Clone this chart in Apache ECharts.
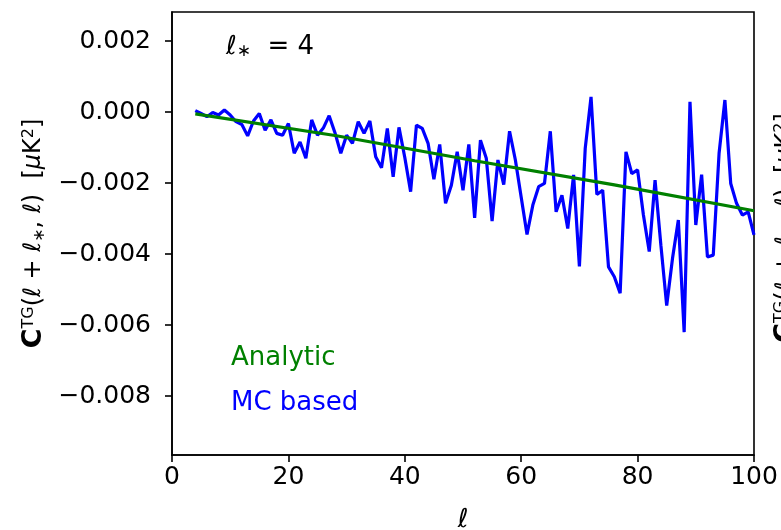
<!DOCTYPE html>
<html>
<head>
<meta charset="utf-8">
<script src="https://cdn.jsdelivr.net/npm/echarts@6/dist/echarts.min.js"></script>
<style>html,body{margin:0;padding:0;background:#fff;}#c{width:781px;height:530px;}</style>
</head>
<body>
<div id="c"></div>
<script>
// ---- data ----
const ells = [4,5,6,7,8,9,10,11,12,13,14,15,16,17,18,19,20,21,22,23,24,25,26,27,28,29,30,31,32,33,34,35,36,37,38,39,40,41,42,43,44,45,46,47,48,49,50,51,52,53,54,55,56,57,58,59,60,61,62,63,64,65,66,67,68,69,70,71,72,73,74,75,76,77,78,79,80,81,82,83,84,85,86,87,88,89,90,91,92,93,94,95,96,97,98,99,100];
const mcBased = [0.00004,-0.00004,-0.00013,-0.00001,-0.00008,0.00006,-0.00008,-0.00027,-0.00035,-0.00067,
  -0.00025,-0.00004,-0.00051,-0.00022,-0.00060,-0.00065,-0.00032,-0.00116,-0.00084,-0.00130,
  -0.00022,-0.00065,-0.00045,-0.00010,-0.00058,-0.00116,-0.00065,-0.00088,-0.00027,-0.00060,
  -0.00025,-0.00126,-0.00157,-0.00046,-0.00182,-0.00043,-0.00128,-0.00224,-0.00037,-0.00046,
  -0.00088,-0.00189,-0.00091,-0.00257,-0.00206,-0.00112,-0.00220,-0.00091,-0.00298,-0.00079,
  -0.00130,-0.00307,-0.00135,-0.00204,-0.00054,-0.00135,-0.00240,-0.00345,-0.00262,-0.00210,
  -0.00201,-0.00054,-0.00281,-0.00234,-0.00328,-0.00177,-0.00435,-0.00102,0.00043,-0.00232,
  -0.00220,-0.00436,-0.00464,-0.00510,-0.00112,-0.00173,-0.00163,-0.00290,-0.00393,-0.00192,
  -0.00375,-0.00545,-0.00412,-0.00304,-0.00620,0.00029,-0.00318,-0.00176,-0.00408,-0.00403,
  -0.00116,0.00034,-0.00201,-0.00257,-0.00290,-0.00281,-0.00346];
const analyticEll = [4, 28, 52, 76, 100];
const analytic = [-0.00005, -0.00066, -0.00137, -0.00205, -0.00278];
const xTicks = [0, 20, 40, 60, 80, 100];
const yTicks = [-0.008, -0.006, -0.004, -0.002, 0.000, 0.002];
const seriesNames = ['Analytic', 'MC based'];

// ---- chart ----
const FONT = 'DejaVu Sans';
const mcPairs = ells.map((e, i) => [e, mcBased[i]]);
const anPairs = analyticEll.map((e, i) => [e, analytic[i]]);
const fmtY = v => (v < 0 ? '\u2212' : '') + Math.abs(v).toFixed(3);

const labelRich = {
  b: {fontFamily: FONT, fontWeight: 'bold', fontSize: 27, color: '#000'},
  sup: {fontFamily: FONT, fontSize: 16, color: '#000', verticalAlign: 'top'},
  sub: {fontFamily: FONT, fontSize: 16, color: '#000', verticalAlign: 'bottom'},
  m: {fontFamily: FONT, fontStyle: 'italic', fontSize: 24, color: '#000'},
  n: {fontFamily: FONT, fontSize: 24, color: '#000'}
};
const labelText = '{b|C}{sup|TG}{n|(}{m|ℓ}{n| + }{m|ℓ}{sub|∗}{n|, }{m|ℓ}{n|)  [}{m|μ}{n|K}{sup|2}{n|]}';

const chart = echarts.init(document.getElementById('c'), null, {renderer: 'canvas'});
chart.setOption({
  animation: false,
  backgroundColor: '#fff',
  grid: {left: 172, right: 27, top: 12, bottom: 75, containLabel: false, outerBoundsMode: 'none',
    show: true, borderColor: '#000', borderWidth: 1.6, backgroundColor: 'transparent'},
  xAxis: {
    type: 'value', min: 0, max: 100, interval: 20,
    name: 'ℓ', nameLocation: 'middle', nameGap: 52,
    nameTextStyle: {fontFamily: FONT, fontStyle: 'italic', fontSize: 26, color: '#000'},
    axisLine: {show: true, onZero: false, lineStyle: {color: '#000', width: 1.6}},
    axisTick: {show: true, inside: false, length: 7, lineStyle: {color: '#000', width: 1.6}, customValues: xTicks},
    axisLabel: {fontFamily: FONT, fontSize: 25, color: '#000', margin: 10, customValues: xTicks},
    splitLine: {show: false}
  },
  yAxis: {
    type: 'value', min: -0.00966, max: 0.00282,
    name: labelText, nameLocation: 'middle', nameRotate: 90, nameGap: 124,
    nameTextStyle: {rich: labelRich},
    axisLine: {show: true, onZero: false, lineStyle: {color: '#000', width: 1.6}},
    axisTick: {show: true, inside: false, length: 7, lineStyle: {color: '#000', width: 1.6}, customValues: yTicks},
    axisLabel: {fontFamily: FONT, fontSize: 25, color: '#000', margin: 21, customValues: yTicks, formatter: fmtY},
    splitLine: {show: false}
  },
  legend: {
    orient: 'vertical', left: 221, top: 340, itemGap: 19,
    itemWidth: 0, itemHeight: 0, icon: 'none',
    textStyle: {fontFamily: FONT, fontSize: 26},
    data: [
      {name: seriesNames[0], textStyle: {color: '#008000'}},
      {name: seriesNames[1], textStyle: {color: '#0000ff'}}
    ]
  },
  graphic: [
    {
      type: 'text', left: 226, top: 34,
      style: {
        text: '{m|ℓ}{sub|∗}{n|  = 4}',
        rich: {
          m: {fontFamily: FONT, fontStyle: 'italic', fontSize: 26, color: '#000'},
          sub: {fontFamily: FONT, fontSize: 17, color: '#000', verticalAlign: 'bottom'},
          n: {fontFamily: FONT, fontSize: 26, color: '#000'}
        }
      }
    },
    {
      type: 'text', x: 786, y: 228, rotation: Math.PI / 2,
      style: {text: labelText, rich: labelRich, align: 'center', verticalAlign: 'middle'}
    }
  ],
  series: [
    {
      name: seriesNames[1], type: 'line', data: mcPairs, showSymbol: false, symbol: 'none',
      lineStyle: {color: '#0000ff', width: 3.2}, itemStyle: {color: '#0000ff'}, z: 2, clip: true
    },
    {
      name: seriesNames[0], type: 'line', data: anPairs, showSymbol: false, symbol: 'none',
      lineStyle: {color: '#008000', width: 3.2}, itemStyle: {color: '#008000'}, z: 3, clip: true
    }
  ]
});
</script>
</body>
</html>
